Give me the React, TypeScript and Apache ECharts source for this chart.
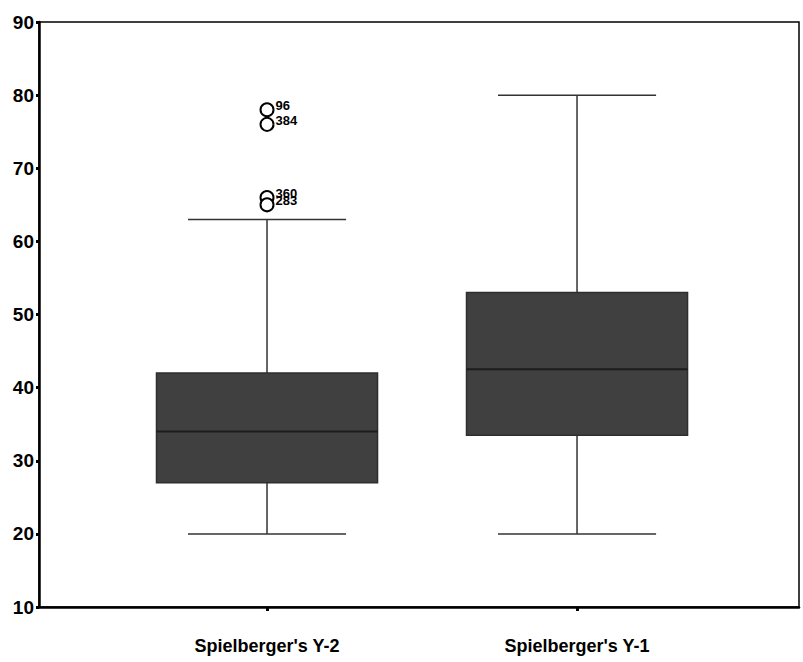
import React, { useEffect, useRef } from "react";
import * as echarts from "echarts";

// ---- data ----
const categories = ["Spielberger's Y-2", "Spielberger's Y-1"];
const categoryPositions = [1, 2];
const boxMin = [20, 20];
const boxQ1 = [27, 33.5];
const boxMedian = [34, 42.5];
const boxQ3 = [42, 53];
const boxMax = [63, 80];
const outlierCategory = [1, 1, 1, 1];
const outlierValues = [78, 76, 66, 65];
const outlierCases = ["96", "384", "360", "283"];
const yMin = 10;
const yMax = 90;
const yInterval = 10;

// ---- styles ----
const BOX_FRAC = 0.713;
const CAP_FRAC = 0.51;
const FONT = "'Liberation Sans', Arial, sans-serif";

export default function App() {
  const ref = useRef<HTMLDivElement>(null);
  useEffect(() => {
    if (!ref.current) return;
    const chart = echarts.init(ref.current, null, { renderer: "svg" });
    const boxData = categoryPositions.map((x, i) => [
      x,
      boxMin[i],
      boxQ1[i],
      boxMedian[i],
      boxQ3[i],
      boxMax[i],
    ]);
    const outlierData = outlierValues.map((v, i) => [outlierCategory[i], v, outlierCases[i]]);

    chart.setOption({
      animation: false,
      textStyle: { fontFamily: FONT },
      grid: {
        left: 39,
        right: 4,
        top: 22,
        bottom: 55,
        show: true,
        borderColor: "#000",
        borderWidth: 1.5,
        backgroundColor: "#fff",
      },
      xAxis: {
        type: "value",
        min: 0.2645,
        max: 2.716,
        splitLine: { show: false },
        axisLine: { show: true, onZero: false, lineStyle: { color: "#000", width: 2.5 } },
        axisTick: {
          show: true,
          customValues: categoryPositions,
          length: 4,
          lineStyle: { color: "#000", width: 3 },
        },
        axisLabel: {
          customValues: categoryPositions,
          formatter: (v: number) => categories[categoryPositions.indexOf(v)] ?? "",
          margin: 30,
          color: "#000",
          fontSize: 18,
          fontWeight: "bold",
          fontFamily: FONT,
        },
      },
      yAxis: {
        type: "value",
        min: yMin,
        max: yMax,
        interval: yInterval,
        splitLine: { show: false },
        axisLine: { show: true, lineStyle: { color: "#000", width: 2.5 } },
        axisTick: { show: true, length: 3, lineStyle: { color: "#000", width: 3 } },
        axisLabel: {
          margin: 5,
          color: "#000",
          fontSize: 19,
          fontWeight: "bold",
          fontFamily: FONT,
        },
      },
      series: [
        {
          type: "custom",
          data: boxData,
          encode: { x: 0, y: [1, 2, 3, 4, 5] },
          renderItem: (params: any, api: any) => {
            const x = api.value(0);
            const unit = api.size([1, 0])[0];
            const bw = unit * BOX_FRAC;
            const cw = unit * CAP_FRAC;
            const pMin = api.coord([x, api.value(1)]);
            const pQ1 = api.coord([x, api.value(2)]);
            const pMed = api.coord([x, api.value(3)]);
            const pQ3 = api.coord([x, api.value(4)]);
            const pMax = api.coord([x, api.value(5)]);
            const cx = pMed[0];
            const lineStyle = { stroke: "#333", lineWidth: 1.5 };
            return {
              type: "group",
              children: [
                { type: "line", shape: { x1: cx, y1: pQ3[1], x2: cx, y2: pMax[1] }, style: lineStyle },
                { type: "line", shape: { x1: cx, y1: pQ1[1], x2: cx, y2: pMin[1] }, style: lineStyle },
                { type: "line", shape: { x1: cx - cw / 2, y1: pMax[1], x2: cx + cw / 2, y2: pMax[1] }, style: lineStyle },
                { type: "line", shape: { x1: cx - cw / 2, y1: pMin[1], x2: cx + cw / 2, y2: pMin[1] }, style: lineStyle },
                {
                  type: "rect",
                  shape: { x: cx - bw / 2, y: pQ3[1], width: bw, height: pQ1[1] - pQ3[1] },
                  style: { fill: "#404040", stroke: "#2e2e2e", lineWidth: 1.5 },
                },
                {
                  type: "line",
                  shape: { x1: cx - bw / 2, y1: pMed[1], x2: cx + bw / 2, y2: pMed[1] },
                  style: { stroke: "#1c1c1c", lineWidth: 2 },
                },
              ],
            };
          },
        },
        {
          type: "scatter",
          data: outlierData,
          symbol: "circle",
          symbolSize: 13,
          itemStyle: { color: "#fff", borderColor: "#000", borderWidth: 2, opacity: 1 },
          label: {
            show: true,
            position: "right",
            distance: 1,
            offset: [0, -4],
            formatter: (p: any) => p.value[2],
            color: "#000",
            fontSize: 13,
            fontWeight: "bold",
            fontFamily: FONT,
          },
          z: 5,
        },
      ],
    });
    return () => chart.dispose();
  }, []);
  return (
    <div
      ref={ref}
      style={{ position: "absolute", left: 0, top: 0, width: 803, height: 662, background: "#fff" }}
    />
  );
}
